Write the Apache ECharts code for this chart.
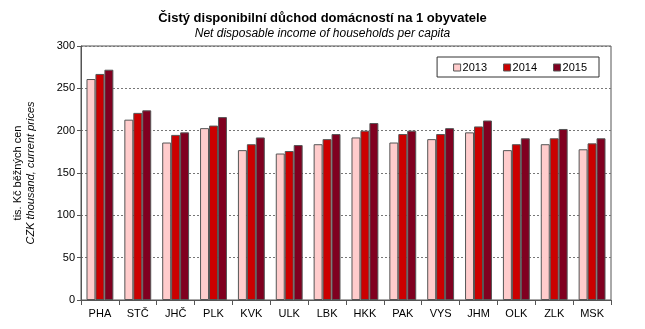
<!DOCTYPE html>
<html>
<head>
<meta charset="utf-8">
<script src="https://cdn.jsdelivr.net/npm/echarts@6/dist/echarts.min.js"></script>
<style>
  html, body { margin: 0; padding: 0; background: #fff; }
  #chart { width: 645px; height: 329px; }
</style>
</head>
<body>
<div id="chart"></div>
<script>
// Regions of the Czech Republic
const regions = ['PHA', 'STČ', 'JHČ', 'PLK', 'KVK', 'ULK', 'LBK', 'HKK', 'PAK', 'VYS', 'JHM', 'OLK', 'ZLK', 'MSK'];

// Net disposable income per capita, CZK thousand
const income2013 = [261, 213, 186, 203, 177, 173, 184, 192, 186, 190, 198, 177, 184, 178];
const income2014 = [267, 221, 195, 206, 184, 176, 190, 200, 196, 196, 205, 184, 191, 185];
const income2015 = [272, 224, 198, 216, 192, 183, 196, 209, 200, 203, 212, 191, 202, 191];

const yTicks = [0, 50, 100, 150, 200, 250, 300];

const FONT = 'Liberation Sans, Arial, sans-serif';
const EDGE = '#555555';

function bar(name, data, color) {
  return {
    name: name,
    type: 'bar',
    data: data,
    barGap: '0%',
    barCategoryGap: '29%',
    itemStyle: { color: color, borderColor: EDGE, borderWidth: 1 }
  };
}

const chart = echarts.init(document.getElementById('chart'), null, { renderer: 'canvas' });
chart.setOption({
  animation: false,
  backgroundColor: '#ffffff',
  textStyle: { fontFamily: FONT },
  title: {
    text: 'Čistý disponibilní důchod domácností na 1 obyvatele',
    subtext: 'Net disposable income of households per capita',
    left: 'center',
    top: 7,
    itemGap: 3,
    textStyle: { fontFamily: FONT, fontSize: 13, fontWeight: 'bold', color: '#000' },
    subtextStyle: { fontFamily: FONT, fontSize: 12, fontStyle: 'italic', color: '#000' }
  },
  legend: {
    data: ['2013', '2014', '2015'],
    right: 46,
    top: 57,
    orient: 'horizontal',
    itemWidth: 7,
    itemHeight: 7,
    itemGap: 16,
    padding: [5, 12, 4, 16],
    borderColor: '#333',
    borderWidth: 1,
    icon: 'rect',
    textStyle: { fontFamily: FONT, fontSize: 11, color: '#000', padding: [0, 0, 0, -3] },
    itemStyle: { borderColor: EDGE, borderWidth: 1 }
  },
  grid: {
    left: 81,
    right: 34,
    top: 46,
    bottom: 29,
    show: true,
    borderColor: '#555',
    borderWidth: 1,
    containLabel: false
  },
  xAxis: {
    type: 'category',
    data: regions,
    axisLine: { lineStyle: { color: '#555', width: 1 } },
    axisTick: { show: true, alignWithLabel: false, length: 5, lineStyle: { color: '#555' } },
    axisLabel: { color: '#000', fontSize: 11, fontFamily: FONT, margin: 8 }
  },
  yAxis: {
    type: 'value',
    min: yTicks[0],
    max: yTicks[yTicks.length - 1],
    interval: yTicks[1] - yTicks[0],
    name: '{a|tis. Kč běžných cen}\n{b|CZK thousand, current prices}',
    nameLocation: 'middle',
    nameRotate: 90,
    nameGap: 44,
    nameTextStyle: {
      rich: {
        a: { fontFamily: FONT, fontSize: 11, color: '#000', lineHeight: 13 },
        b: { fontFamily: FONT, fontSize: 11, fontStyle: 'italic', color: '#000', lineHeight: 13 }
      }
    },
    axisLine: { show: true, lineStyle: { color: '#555', width: 1 } },
    axisTick: { show: true, length: 4, lineStyle: { color: '#555' } },
    axisLabel: { color: '#000', fontSize: 11, fontFamily: FONT, margin: 6 },
    splitLine: { show: true, lineStyle: { color: '#777', type: [2, 2], width: 1 } }
  },
  series: [
    bar('2013', income2013, '#ffcccc'),
    bar('2014', income2014, '#cc0000'),
    bar('2015', income2015, '#800020')
  ]
});
</script>
</body>
</html>
